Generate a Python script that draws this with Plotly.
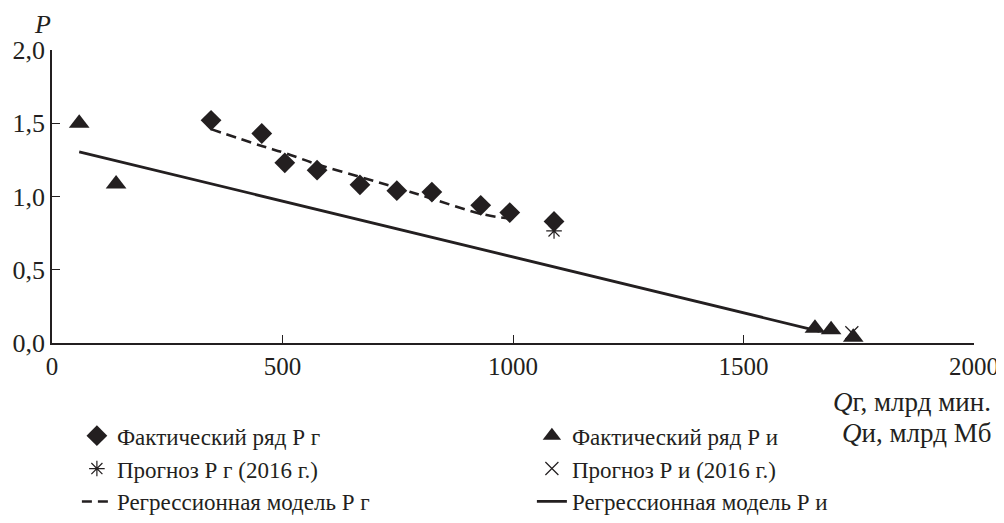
import plotly.graph_objects as go

# Фактический ряд Р г
qg = [345, 455, 505, 575, 668, 748, 824, 930, 993, 1089]
pg = [1.52, 1.43, 1.23, 1.18, 1.08, 1.04, 1.03, 0.94, 0.89, 0.83]
# Фактический ряд Р и
qi = [59, 139, 1655, 1690, 1738]
pi = [1.50, 1.085, 0.10, 0.09, 0.04]
# Прогноз 2016
qg_f = [1089]
pg_f = [0.765]
qi_f = [1735]
pi_f = [0.07]
# Регрессионные модели
reg_g_x = [345, 455, 505, 575, 668, 748, 824, 930, 993]
reg_g_y = [1.46, 1.345, 1.297, 1.22, 1.134, 1.06, 0.985, 0.882, 0.848]
reg_i_x = [59, 1665]
reg_i_y = [1.305, 0.08]

x_ticks = [0, 500, 1000, 1500, 2000]
y_ticks = [0, 0.5, 1.0, 1.5, 2.0]
y_ticktext = ["0,0", "0,5", "1,0", "1,5", "2,0"]

FONT = "Liberation Serif"
BLACK = "#231f20"

fig = go.Figure()
fig.add_trace(go.Scatter(x=reg_g_x, y=reg_g_y, mode="lines", name="Регрессионная модель Р г",
                         legendrank=5,
                         line=dict(color=BLACK, width=2.6, dash="10px,6px", shape="spline")))
fig.add_trace(go.Scatter(x=reg_i_x, y=reg_i_y, mode="lines", name="Регрессионная модель Р и",
                         legendrank=6, line=dict(color=BLACK, width=2.8)))
fig.add_trace(go.Scatter(x=qg, y=pg, mode="markers", name="Фактический ряд Р г", legendrank=1,
                         marker=dict(symbol="diamond", size=16, color=BLACK), cliponaxis=False))
fig.add_trace(go.Scatter(x=qi, y=pi, mode="markers", name="Фактический ряд Р и", legendrank=2,
                         marker=dict(symbol="triangle-up", size=18, color=BLACK), cliponaxis=False))
fig.add_trace(go.Scatter(x=qg_f, y=pg_f, mode="markers", name="Прогноз Р г (2016 г.)", legendrank=3,
                         marker=dict(symbol="asterisk-open", size=13, color=BLACK,
                                     line=dict(width=1.2, color=BLACK)), cliponaxis=False))
fig.add_trace(go.Scatter(x=qi_f, y=pi_f, mode="markers", name="Прогноз Р и (2016 г.)", legendrank=4,
                         marker=dict(symbol="x-thin-open", size=13, color=BLACK,
                                     line=dict(width=1.2, color=BLACK)), cliponaxis=False))

fig.update_layout(
    width=996, height=515,
    margin=dict(l=44, r=30, t=42, b=180, autoexpand=False),
    paper_bgcolor="white", plot_bgcolor="white",
    font=dict(family=FONT, size=23, color=BLACK),
    showlegend=True,
    legend=dict(orientation="h", x=0.027, xanchor="left", y=-0.243, yanchor="top",
                entrywidth=410, entrywidthmode="pixels", traceorder="normal",
                font=dict(family=FONT, size=23, color=BLACK), bgcolor="rgba(0,0,0,0)",
                itemwidth=30),
    xaxis=dict(range=[0, 2000], tickvals=x_ticks, ticktext=[str(v) for v in x_ticks],
               ticks="inside", ticklen=8, tickcolor=BLACK, tickwidth=1.2,
               showline=True, linecolor=BLACK, linewidth=1.5, showgrid=False, zeroline=False,
               tickfont=dict(family=FONT, size=25, color=BLACK)),
    yaxis=dict(range=[0, 2.0], tickvals=y_ticks, ticktext=y_ticktext,
               ticks="inside", ticklen=8, tickcolor=BLACK, tickwidth=1.2,
               showline=True, linecolor=BLACK, linewidth=1.5, showgrid=False, zeroline=False,
               tickfont=dict(family=FONT, size=26, color=BLACK)),
    annotations=[
        dict(text="<i>P</i>", xref="paper", yref="paper", x=-0.01, y=1.143, xanchor="center",
             yanchor="top", showarrow=False, font=dict(family=FONT, size=26, color=BLACK)),
        dict(text="<i>Q</i>г, млрд мин.", xref="paper", yref="paper", x=1.0206, y=-0.201,
             xanchor="right", yanchor="middle", showarrow=False,
             font=dict(family=FONT, size=27, color=BLACK)),
        dict(text="<i>Q</i>и, млрд Мб", xref="paper", yref="paper", x=1.0206, y=-0.307,
             xanchor="right", yanchor="middle", showarrow=False,
             font=dict(family=FONT, size=27, color=BLACK)),
    ],
)

fig.write_html("out.html")
